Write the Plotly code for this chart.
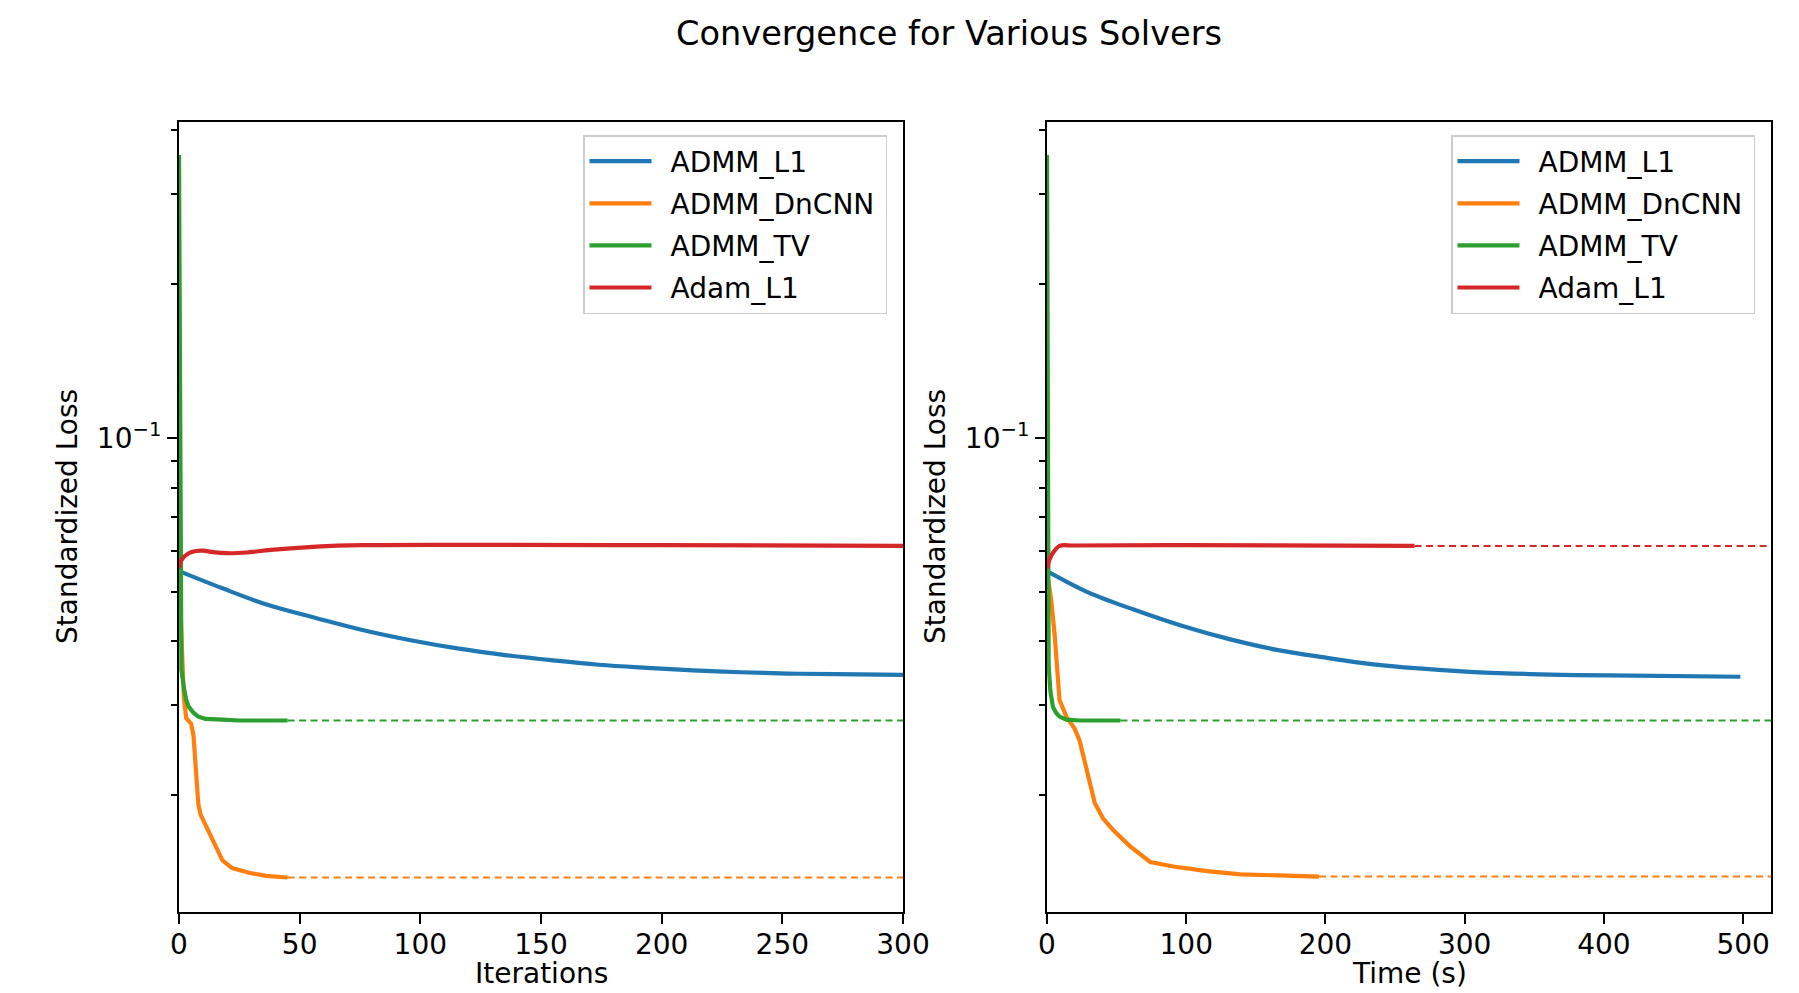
import plotly.graph_objects as go

# ---------------- data: Iterations panel ----------------
names = ["ADMM_L1", "ADMM_DnCNN", "ADMM_TV", "Adam_L1"]
colors = ["#1f77b4", "#ff7f0e", "#2ca02c", "#d62728"]

it_admm_l1 = [0, 18, 37, 57, 76, 96, 116, 135, 155, 174, 194, 213, 233, 252, 272, 300]
it_loss_admm_l1 = [0.0549, 0.0508, 0.0471, 0.0444, 0.0421, 0.0402, 0.0387, 0.0376, 0.0367,
                   0.0360, 0.0355, 0.0351, 0.0348, 0.0346, 0.0345, 0.0344]

it_admm_dncnn = [0, 1, 2, 3, 4, 5, 6, 7, 8, 9, 11, 13, 16, 18, 22, 29, 36, 45]
it_loss_admm_dncnn = [0.0548, 0.0400, 0.0310, 0.0283, 0.0280, 0.0276, 0.0262, 0.0215, 0.0192,
                      0.0183, 0.0175, 0.0166, 0.0155, 0.0149, 0.0144, 0.0141, 0.0139, 0.0138]

it_admm_tv = [0, 1, 2, 3, 4, 6, 8, 11, 18, 25, 45]
it_loss_admm_tv = [0.358, 0.0352, 0.0325, 0.0307, 0.0298, 0.0290, 0.0285, 0.0282, 0.0281, 0.0280, 0.0280]

it_adam_l1 = [0, 1, 4, 7, 10, 14, 20, 28, 38, 57, 76, 116, 200, 300]
it_loss_adam_l1 = [0.0556, 0.0577, 0.0595, 0.0601, 0.0602, 0.0598, 0.0595, 0.0597, 0.0604,
                   0.0613, 0.0617, 0.0618, 0.0617, 0.0615]

# ---------------- data: Time panel ----------------
t_admm_l1 = [0, 28.7, 62.8, 96.8, 131, 165, 199, 233, 267, 301, 335, 369, 404, 498]
t_loss_admm_l1 = [0.0549, 0.0500, 0.0461, 0.0429, 0.0404, 0.0385, 0.0372, 0.0361,
                  0.0354, 0.0349, 0.0346, 0.0344, 0.0343, 0.0341]

t_admm_dncnn = [0, 3.0, 5.4, 9.0, 13.9, 19.8, 23.4, 28.3, 34.3, 40.3, 47.5, 59.5, 74.1,
                90.8, 114.9, 138.9, 162.9, 195.4]
t_loss_admm_dncnn = [0.0548, 0.0482, 0.0415, 0.0307, 0.0285, 0.0270, 0.0256, 0.0224, 0.0193,
                     0.0180, 0.0171, 0.0159, 0.0148, 0.0145, 0.0142, 0.0140, 0.01393, 0.01386]

t_admm_tv = [0, 1.2, 2.4, 4.2, 6.5, 9.0, 13.9, 23.4, 52.8]
t_loss_admm_tv = [0.358, 0.0360, 0.0320, 0.0298, 0.0290, 0.0285, 0.0281, 0.0280, 0.0280]

t_adam_l1 = [0, 2, 5, 9, 20, 100, 264]
t_loss_adam_l1 = [0.0556, 0.0580, 0.0600, 0.0615, 0.0616, 0.0617, 0.0615]

# axis settings
iter_max = 300
time_max = 520
y_major = [0.1]
y_major_text = ["10<sup>\u22121</sup>"]
y_minor = [0.02, 0.03, 0.04, 0.05, 0.06, 0.07, 0.08, 0.09, 0.2, 0.3, 0.4]
x_iter_ticks = [0, 50, 100, 150, 200, 250, 300]
x_time_ticks = [0, 100, 200, 300, 400, 500]

FONT = "DejaVu Sans"

iter_series = [(it_admm_l1, it_loss_admm_l1), (it_admm_dncnn, it_loss_admm_dncnn),
               (it_admm_tv, it_loss_admm_tv), (it_adam_l1, it_loss_adam_l1)]
time_series = [(t_admm_l1, t_loss_admm_l1), (t_admm_dncnn, t_loss_admm_dncnn),
               (t_admm_tv, t_loss_admm_tv), (t_adam_l1, t_loss_adam_l1)]

fig = go.Figure()


def add_panel(series, xa, ya, legend, xmax, tag):
    for name, color, (xs, ys) in zip(names, colors, series):
        smooth = name in ("ADMM_L1", "Adam_L1")
        fig.add_trace(go.Scatter(
            x=xs, y=ys, mode="lines", name="\u2002" + name + "\u2009", xaxis=xa, yaxis=ya,
            legend=legend, legendgroup=name + tag,
            line=dict(color=color, width=4.2, shape="spline" if smooth else "linear",
                      smoothing=1.0 if smooth else None),
        ))
    longest = max(xs[-1] for xs, _ in series)
    for name, color, (xs, ys) in zip(names, colors, series):
        if xs[-1] < longest:
            fig.add_trace(go.Scatter(
                x=[xs[-1], xmax], y=[ys[-1], ys[-1]], mode="lines", showlegend=False,
                xaxis=xa, yaxis=ya, hoverinfo="skip",
                line=dict(color=color, width=2, dash="7px,4.5px"),
            ))


add_panel(iter_series, "x", "y", "legend", iter_max, "a")
add_panel(time_series, "x2", "y2", "legend2", time_max, "b")

# page has an 8px body margin: figure is drawn at (8, 8)
OFF = 8
W, H = 1799 - OFF, 993 - OFF
L, R, T, B = 179 - OFF, 28, 122 - OFF, 81
pw = W - L - R
d1 = [0, 724 / pw]
d2 = [1 - 724 / pw, 1]

yaxis_common = dict(
    type="log", range=[-1.9276, -0.3816], tickmode="array", tickvals=y_major,
    ticktext=y_major_text, ticks="outside", ticklen=10, tickwidth=2, tickcolor="black",
    minor=dict(tickvals=y_minor, ticks="outside", ticklen=6, tickwidth=1.6, tickcolor="black",
               showgrid=False),
    showgrid=False, zeroline=False, showline=True, linecolor="black", linewidth=2,
    mirror=True, tickfont=dict(family=FONT, size=28, color="black"),
)
xaxis_common = dict(
    tickmode="array", ticks="outside", ticklen=10, tickwidth=2, tickcolor="black",
    showgrid=False, zeroline=False, showline=True, linecolor="black", linewidth=2,
    mirror=True, tickfont=dict(family=FONT, size=28, color="black"), ticklabelstandoff=-4,
)

legend_common = dict(
    xref="paper", yref="paper", xanchor="right", yanchor="top",
    bgcolor="rgba(255,255,255,0.85)", bordercolor="#cccccc", borderwidth=1.5,
    font=dict(family=FONT, size=28, color="black"), itemwidth=62, tracegroupgap=2.7,
)

page_plot_top, page_plot_bottom = 122, 912


def py(page_y):
    return (page_plot_bottom - page_y) / (page_plot_bottom - page_plot_top)


def px(page_x):
    return (page_x - 179) / pw


fig.update_layout(
    width=W, height=H, margin=dict(l=L, r=R, t=T, b=B, autoexpand=False),
    paper_bgcolor="white", plot_bgcolor="white",
    title=dict(text="Convergence for Various Solvers", x=(949 - OFF) / W, xref="container",
               xanchor="center", y=1 - (33 - OFF) / H, yref="container", yanchor="middle",
               font=dict(family=FONT, size=33.6, color="black")),
    xaxis=dict(domain=d1, range=[0, iter_max], tickvals=x_iter_ticks, anchor="y", **xaxis_common),
    xaxis2=dict(domain=d2, range=[0, time_max], tickvals=x_time_ticks, anchor="y2", **xaxis_common),
    yaxis=dict(domain=[0, 1], anchor="x", **yaxis_common),
    yaxis2=dict(domain=[0, 1], anchor="x2", **yaxis_common),
    legend=dict(x=px(887), y=py(135), **legend_common),
    legend2=dict(x=px(1755), y=py(135), **legend_common),
    annotations=[
        dict(text="Iterations", x=sum(d1) / 2, y=py(973), xref="paper", yref="paper",
             xanchor="center", yanchor="middle", showarrow=False,
             font=dict(family=FONT, size=28, color="black")),
        dict(text="Time (s)", x=sum(d2) / 2, y=py(973), xref="paper", yref="paper",
             xanchor="center", yanchor="middle", showarrow=False,
             font=dict(family=FONT, size=28, color="black")),
        dict(text="Standardized Loss", x=px(67), y=0.5, xref="paper", yref="paper",
             xanchor="center", yanchor="middle", showarrow=False, textangle=-90,
             font=dict(family=FONT, size=28, color="black")),
        dict(text="Standardized Loss", x=px(935), y=0.5, xref="paper", yref="paper",
             xanchor="center", yanchor="middle", showarrow=False, textangle=-90,
             font=dict(family=FONT, size=28, color="black")),
    ],
)

fig.write_html("out.html")
